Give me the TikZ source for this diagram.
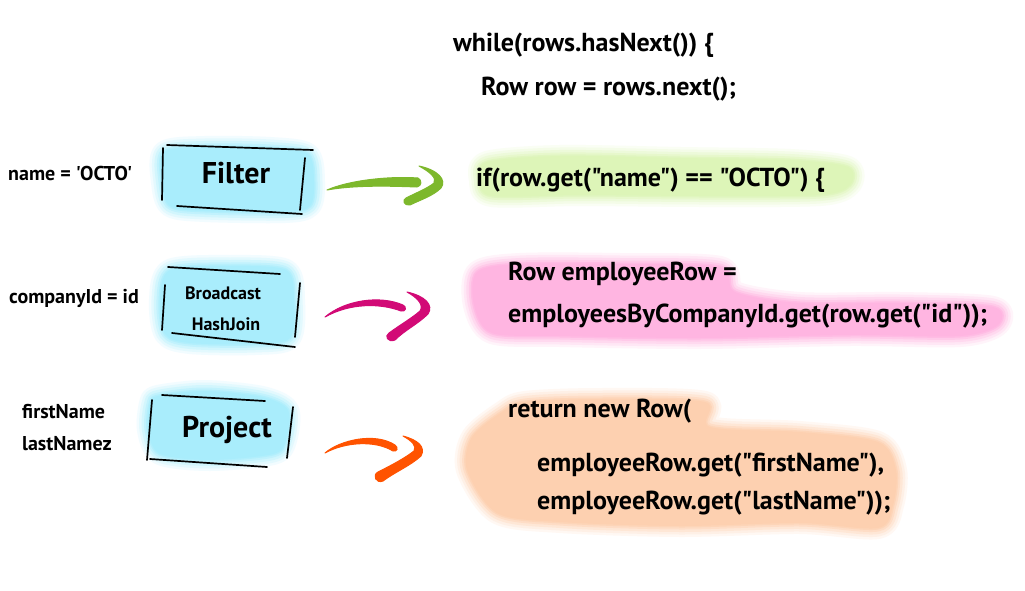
\documentclass[tikz,border=0pt]{standalone}
\usepackage{fontspec}
\setmainfont{PT Sans}[Ligatures=TeXOff]
\definecolor{hlblue}{HTML}{A9EDFC}
\definecolor{hlgreen}{HTML}{DDF5B8}
\definecolor{hlpink}{HTML}{FFB5E1}
\definecolor{hlorange}{HTML}{FDD0B0}
\definecolor{argreen}{HTML}{7DB82C}
\definecolor{arpink}{HTML}{D20A76}
\definecolor{arorange}{HTML}{FF5300}
\tikzset{
  code/.style={font=\bfseries\fontsize{26}{30}\selectfont, anchor=west, inner sep=0pt},
  lab/.style={font=\bfseries\fontsize{20}{24}\selectfont, anchor=west, inner sep=0pt},
  opname/.style={font=\bfseries\fontsize{30}{33}\selectfont, inner sep=0pt},
  opsmall/.style={font=\bfseries\fontsize{18}{22}\selectfont, inner sep=0pt},
  sketch/.style={line width=1.7pt, line cap=round, black},
  brush/.style={fill=#1, draw=#1, line width=1pt, line join=round},
  blobL/.style args={#1/#2/#3}{draw=#1!#2!white, fill=#1!#2!white, line width=#3, line join=round},
}
\newcommand{\hlblob}[2]{%
  \path[blobL={#1/15/22pt}] plot[smooth cycle] coordinates {#2};
  \path[blobL={#1/32/17pt}] plot[smooth cycle] coordinates {#2};
  \path[blobL={#1/52/12pt}] plot[smooth cycle] coordinates {#2};
  \path[blobL={#1/72/7pt}] plot[smooth cycle] coordinates {#2};
  \path[blobL={#1/90/3pt}] plot[smooth cycle] coordinates {#2};
  \path[fill=#1] plot[smooth cycle] coordinates {#2};
}
\begin{document}
\begin{tikzpicture}[x=1pt,y=-1pt]
\useasboundingbox (0,0) rectangle (1025,591);
\fill[white] (0,0) rectangle (1025,591);

% ---------- highlights ----------
\hlblob{hlblue}{(164,152) (205,147) (270,148) (308,154) (314,182) (310,206) (285,212) (205,211) (170,206) (162,182)}
\hlblob{hlblue}{(170,270) (230,266) (286,270) (294,300) (290,338) (255,344) (190,343) (165,334) (160,300)}
\hlblob{hlblue}{(158,396) (205,391) (262,397) (288,410) (286,440) (273,454) (210,460) (160,454) (148,430) (150,404)}

\hlblob{hlgreen}{(487,162) (560,156) (680,158) (790,160) (848,167) (850,185) (820,195) (700,196) (580,195) (492,196) (480,180)}

\hlblob{hlpink}{(477,272) (520,264) (620,264) (720,267) (735,292) (800,303) (900,303) (993,307) (998,325) (960,336) (850,335) (700,338) (560,336) (492,333) (474,305)}

\hlblob{hlorange}{(525,402) (600,399) (705,402) (710,427) (800,432) (878,442) (896,470) (893,505) (878,528) (800,523) (680,526) (560,522) (497,513) (467,470) (472,437) (502,412)}

% ---------- code text ----------
\node[code] (w1) at (453,45) {while(rows.hasNext()) \{};
\node[code] (w2) at (481,89) {Row row = rows.next();};
\node[code] (f1) at (476,180) {if(row.get("name") == "OCTO") \{};
\node[code] (j1) at (508,274) {Row employeeRow =};
\node[code] (j2) at (508,316) {employeesByCompanyId.get(row.get("id"));};
\node[code] (p1) at (508,411) {return new Row(};
\node[code] (p2) at (537,465) {employeeRow.get("firstName"),};
\node[code] (p3) at (537,503) {employeeRow.get("lastName"));};

% ---------- left labels ----------
\node[lab] (l1) at (8,173) {name = 'OCTO'};
\node[lab] (l2) at (9,298) {companyId = id};
\node[lab] (l3) at (22,412) {firstName};
\node[lab] (l4) at (22,444) {lastNamez};

% ---------- operator boxes ----------
\node[opname] (filter) at (236,173) {Filter};
\draw[sketch] (167,145) -- (313,150);
\draw[sketch] (163,148) -- (162,200);
\draw[sketch] (177,206) -- (302,214);
\draw[sketch] (305,158) -- (300,210);

\node[opsmall] (bc1) at (223,293) {Broadcast};
\node[opsmall] (bc2) at (226,324) {HashJoin};
\draw[sketch] (168,267) -- (280,274);
\draw[sketch] (165,285) -- (162,330);
\draw[sketch] (172,333) -- (295,347);
\draw[sketch] (300,283) -- (295,337);

\node[opname] (project) at (227,430) {Project};
\draw[sketch] (162,395) -- (265,401);
\draw[sketch] (152,400) -- (147,460);
\draw[sketch] (150,459) -- (267,467);
\draw[sketch] (293,407) -- (287,458);

% ---------- brush arrows ----------
\path[brush=argreen] (327,190) .. controls (350,180) and (390,176) .. (418,178)
  .. controls (422,180) and (422,186) .. (417,187)
  .. controls (390,186) and (355,185) .. (327,190) -- cycle;
\path[brush=argreen] (419,166) .. controls (438,170) and (447,180) .. (441,188)
  .. controls (433,196) and (420,200) .. (410,205)
  .. controls (404,206) and (402,200) .. (406,198)
  .. controls (418,192) and (428,188) .. (434,183)
  .. controls (437,178) and (430,172) .. (419,166) -- cycle;

\path[brush=arpink] (325,317) .. controls (345,300) and (380,295) .. (403,305)
  .. controls (407,307) and (406,312) .. (401,311)
  .. controls (380,303) and (350,303) .. (325,317) -- cycle;
\path[brush=arpink] (407,292) .. controls (425,296) and (434,305) .. (428,314)
  .. controls (418,324) and (405,330) .. (395,340)
  .. controls (388,343) and (384,336) .. (389,333)
  .. controls (400,325) and (412,318) .. (420,311)
  .. controls (424,305) and (418,298) .. (407,292) -- cycle;

\path[brush=arorange] (325,453) .. controls (340,440) and (375,432) .. (395,445)
  .. controls (399,448) and (397,452) .. (393,451)
  .. controls (375,440) and (345,442) .. (325,453) -- cycle;
\path[brush=arorange] (403,436) .. controls (418,440) and (426,447) .. (421,456)
  .. controls (410,466) and (395,472) .. (383,481)
  .. controls (376,484) and (372,475) .. (378,472)
  .. controls (392,465) and (405,458) .. (414,451)
  .. controls (417,446) and (412,441) .. (403,436) -- cycle;
\end{tikzpicture}
\end{document}
